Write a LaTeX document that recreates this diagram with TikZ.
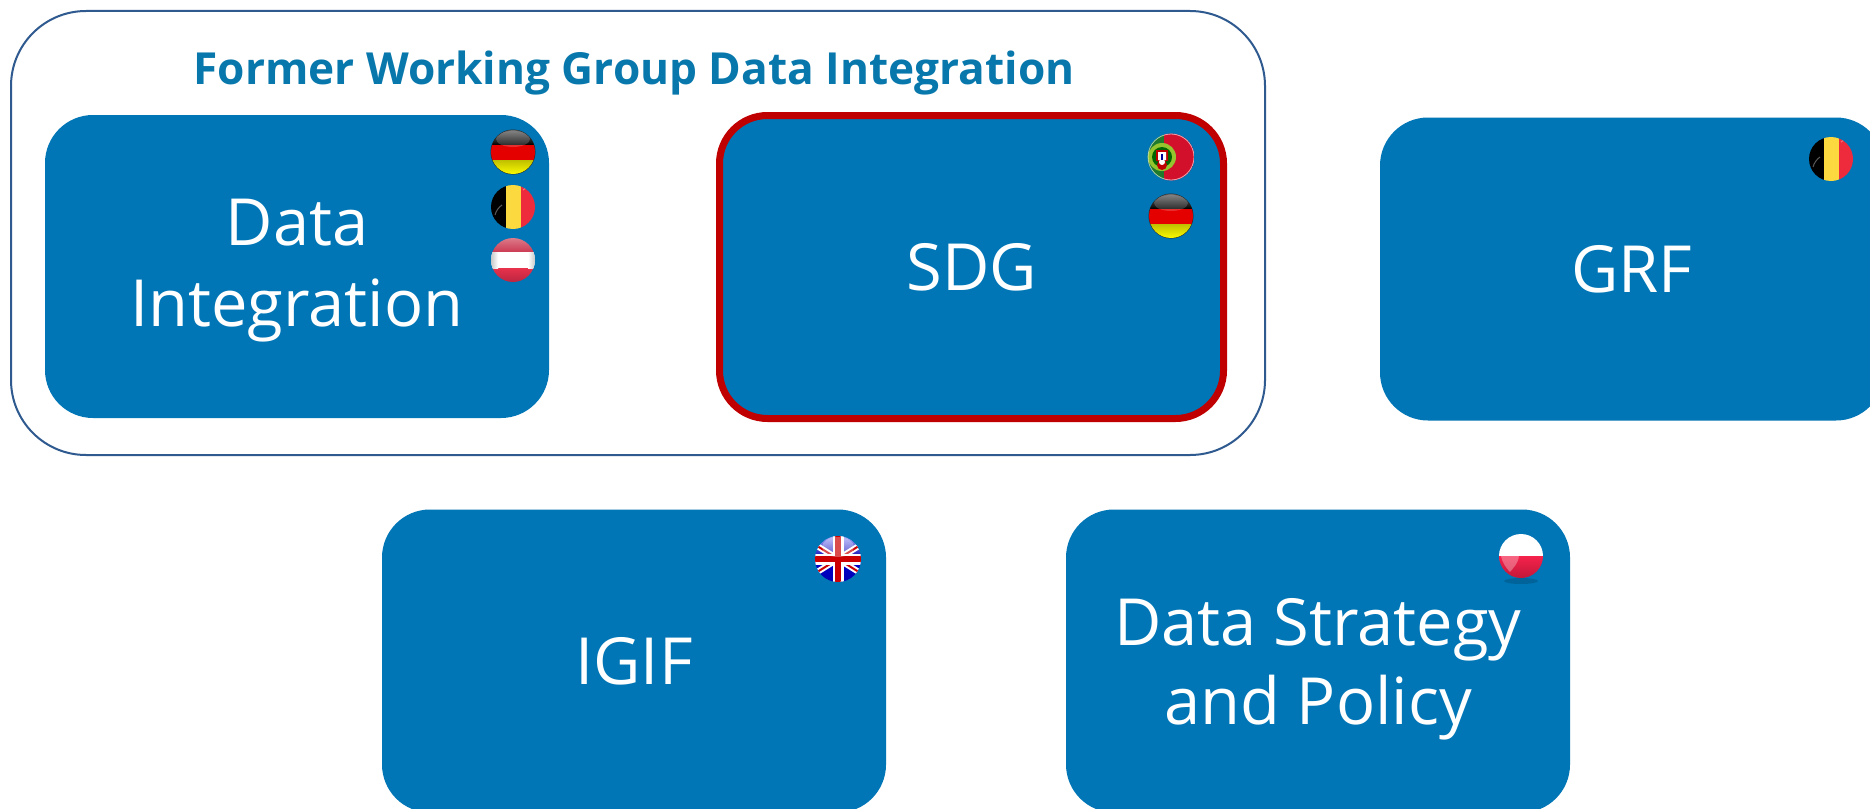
\documentclass[tikz,border=0pt]{standalone}
\usepackage{fontspec}
\setmainfont{Open Sans}
\definecolor{boxblue}{HTML}{0076B6}
\definecolor{titleblue}{HTML}{0878AC}
\definecolor{framedark}{HTML}{2F5A8F}
\definecolor{sdgred}{HTML}{C00000}
\definecolor{beblack}{HTML}{000000}
\definecolor{beyellow}{HTML}{FBD93F}
\definecolor{bered}{HTML}{EE2B3C}
\definecolor{atpale}{HTML}{DC7F8E}
\definecolor{atmid}{HTML}{CC3A52}
\definecolor{atlow}{HTML}{E8324C}
\definecolor{atdark}{HTML}{B82440}
\definecolor{ptred}{HTML}{D3102C}
\definecolor{ptgreen}{HTML}{1F7A2E}
\definecolor{plred}{HTML}{F5224C}
\definecolor{pldark}{HTML}{C01838}
\tikzset{
  box/.style={fill=boxblue,rounded corners=48pt,minimum width=504pt,minimum height=303pt,inner sep=0pt,
    text=white,font=\fontsize{65}{81}\selectfont,align=center},
  boxtext/.style={text=white,font=\fontsize{65}{81}\selectfont,align=center,inner sep=0pt},
  frame/.style={draw=framedark,line width=2pt,fill=white,rounded corners=75pt,minimum width=1254pt,minimum height=444pt,inner sep=0pt},
  redbox/.style={box,draw=sdgred,line width=7pt,minimum width=504pt,minimum height=303pt},
  titletext/.style={text=titleblue,font=\fontsize{44.2}{48}\bfseries\selectfont,inner sep=0pt},
}
\newcommand{\flagGE}[2]{%
 \begin{scope}[shift={(#1,#2)}]
  \fill[black!85] (0,0) circle[radius=22.5pt];
  \begin{scope}\clip (0,0) circle[radius=22pt];
   \shade[top color=black!55,bottom color=black] (-23,-23) rectangle (23,-7);
   \fill[red!90!black] (-23,-7) rectangle (23,8);
   \shade[top color=yellow!75!black,bottom color=yellow] (-23,8) rectangle (23,23);
   \fill[white,opacity=.18] (0,-13) ellipse[x radius=17pt,y radius=8pt];
  \end{scope}
 \end{scope}}
\newcommand{\flagBE}[2]{%
 \begin{scope}[shift={(#1,#2)}]
  \begin{scope}\clip (0,0) circle[radius=22pt];
   \fill[beblack] (-23,-23) rectangle (-7.5,23);
   \fill[beyellow] (-7.5,-23) rectangle (8,23);
   \fill[bered] (8,-23) rectangle (23,23);
   \draw[white,opacity=.35,line width=1pt] (10,-17) arc[start angle=-60,end angle=-15,radius=18pt];
   \draw[white,opacity=.35,line width=1pt] (-18,8) arc[start angle=165,end angle=125,radius=18pt];
  \end{scope}
 \end{scope}}
\newcommand{\flagAT}[2]{%
 \begin{scope}[shift={(#1,#2)}]
  \begin{scope}\clip (0,0) circle[radius=22pt];
   \shade[top color=atpale,bottom color=atmid] (-23,-23) rectangle (23,-8);
   \shade[top color=atlow,bottom color=atdark] (-23,8) rectangle (23,23);
   \fill[white] (-23,-8) rectangle (23,8);
   \shade[left color=black!25,right color=white] (-23,-8) rectangle (-15,8);
   \shade[left color=white,right color=black!25] (15,-8) rectangle (23,8);
  \end{scope}
 \end{scope}}
\newcommand{\flagPT}[2]{%
 \begin{scope}[shift={(#1,#2)}]
  \begin{scope}\clip (0,0) circle[radius=23.5pt];
   \fill[ptgreen] (-24,-24) rectangle (-7,24);
   \fill[ptred] (-7,-24) rectangle (24,24);
   \fill[yellow!60!green!90!black] (-9,0) circle[radius=14pt];
   \fill[green!40!black] (-9,0) circle[radius=10pt];
   \fill[red!75!black] (-15,-7) rectangle (-3,4) (-9,8) circle[radius=5pt];
   \fill[white] (-13,-5) rectangle (-5,3) (-9,5) circle[radius=3pt];
   \fill[blue!60!black] (-10,-3) rectangle (-8,3);
   \draw[white,opacity=.6,line width=.8pt] (0,0) circle[radius=23pt];
  \end{scope}
 \end{scope}}
\newcommand{\flagUK}[2]{%
 \begin{scope}[shift={(#1,#2)}]
  \begin{scope}\clip (0,0) circle[radius=23pt];
   \shade[top color=blue!30!white,bottom color=blue!70!black] (-24,-24) rectangle (24,0);
   \shade[top color=blue!80!black,bottom color=blue!70!black] (-24,0) rectangle (24,24);
   \draw[white,line width=6pt] (-24,-15) -- (24,15) (-24,15) -- (24,-15);
   \draw[red!80!black,line width=2pt] (-24,-15) -- (24,15) (-24,15) -- (24,-15);
   \draw[white,line width=11pt] (0,-24) -- (0,24) (-24,0) -- (24,0);
   \draw[red!80!black,line width=6pt] (0,-24) -- (0,24) (-24,0) -- (24,0);
   \fill[white,opacity=.3] (0,-12) ellipse[x radius=16pt,y radius=10pt];
  \end{scope}
 \end{scope}}
\newcommand{\flagPL}[2]{%
 \begin{scope}[shift={(#1,#2)}]
  \fill[black,opacity=.15] (0,25) ellipse[x radius=17pt,y radius=3pt];
  \begin{scope}\clip (0,0) circle[radius=22pt];
   \fill[white] (-23,-23) rectangle (23,0);
   \shade[top color=plred,bottom color=pldark] (-23,0) rectangle (23,23);
   \fill[white,opacity=.3] (-20,0) -- (-2,0) .. controls (-3,8) and (-8,12) .. (-11,16) .. controls (-15,12) and (-19,6) .. (-20,0) -- cycle;
  \end{scope}
 \end{scope}}
\begin{document}
\begin{tikzpicture}[x=1pt,y=-1pt]
\clip (0,0) rectangle (1870,808);
\fill[white] (0,0) rectangle (1870,808);
\node[frame] (outer) at (638,233) {};
\node[titletext] (title) at (634,73) {Former Working Group Data Integration};
\node[box] (di) at (297,266.5) {};
\node[boxtext] (ditext) at (297,271) {Data\\Integration};
\node[redbox] (sdg) at (971.5,267) {SDG};
\node[box] (grf) at (1632,269) {GRF};
\node[box] (igif) at (634,661) {IGIF};
\node[box] (dsp) at (1318,661) {};
\node[boxtext] (dsptext) at (1318,669) {Data Strategy\\[-2pt]and Policy};
\flagGE{513}{152}
\flagBE{513}{207}
\flagAT{513}{260}
\flagPT{1171}{157}
\flagGE{1171}{216}
\flagBE{1831}{159}
\flagUK{838}{559}
\flagPL{1521}{556}
\end{tikzpicture}
\end{document}
